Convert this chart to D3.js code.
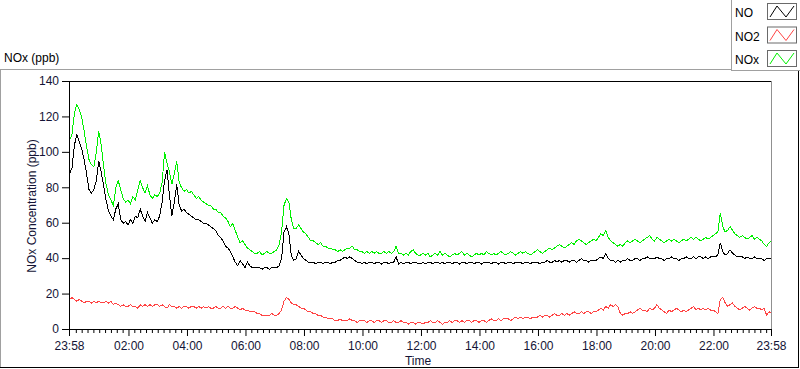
<!DOCTYPE html>
<html><head><meta charset="utf-8">
<script src="https://cdn.jsdelivr.net/npm/d3@7"></script>
<style>
html,body{margin:0;padding:0;background:#fff;}
svg{display:block;font-family:"Liberation Sans",Arial,sans-serif;}
</style></head><body>
<svg id="c" width="800" height="369"></svg>
<script>
// ---- data (one value every 5 minutes, starting 23:58; each row = 1 hour) ----
const stepMinutes = 5;
const seriesNames = ["NO", "NO2", "NOx"];
const seriesColors = ["#000000", "#ff4444", "#00f000"];

const noValues = [
  88,91,104,110,106,102,96,88,79,77,79,84,
  95,89,81,73,67,64,62,68,71,62,60,61,
  59,62,60,64,63,68,64,61,66,63,60,62,
  61,64,72,84,90,76,64,72,82,70,67,68,
  66,65,64,63,62,62,61,60,60,59,58,57,
  56,53,52,50,47,46,44,41,38,36,39,37,
  35,38,36,35,35,35,35,34,35,35,34,35,
  35,35,36,40,55,58,54,42,39,40,44,42,
  40,39,38,38,38,37,38,38,37,38,38,37,
  38,38,39,39,40,41,40,41,40,39,38,38,
  37,38,37,38,38,37,38,38,37,38,38,37,
  38,38,41,37,38,37,38,38,37,38,38,37,
  37,38,37,38,38,37,38,38,37,38,37,38,
  38,37,38,38,37,38,38,37,38,38,37,38,
  38,37,38,38,38,37,38,38,37,38,38,37,
  38,38,37,38,38,38,37,38,38,37,38,38,
  38,37,38,38,39,38,38,39,38,39,38,39,
  39,38,39,39,38,39,40,39,39,38,39,39,
  39,40,41,40,43,40,39,39,38,39,38,39,
  39,40,39,39,40,40,39,40,40,41,40,40,
  40,41,40,40,39,40,40,41,40,40,39,40,
  40,41,40,40,41,40,41,41,40,41,40,41,
  41,41,42,49,44,42,43,45,43,42,41,41,
  41,40,41,40,40,41,40,40,40,39,40,40,
  40
];

const no2Values = [
  17,18,17,16,17,16,15,16,16,15,16,15,
  16,15,15,16,15,16,14,15,14,13,14,13,
  13,14,13,13,12,14,13,14,13,14,13,14,
  14,13,14,13,12,14,13,13,12,13,12,13,
  13,12,13,13,12,13,12,13,12,13,12,12,
  13,12,12,13,12,13,12,12,13,12,11,12,
  11,11,10,10,10,9,9,8,8,8,8,9,
  8,8,9,11,16,18,17,15,14,14,13,12,
  12,11,10,10,9,9,8,8,7,7,6,6,
  6,5,5,6,5,5,5,6,5,5,4,5,
  5,5,4,5,5,4,5,5,4,5,5,4,
  4,5,4,4,5,4,4,3,4,4,3,4,
  4,3,4,4,5,4,4,5,4,3,4,4,
  5,4,5,5,4,5,4,5,5,4,5,5,
  4,5,5,4,5,6,5,5,6,5,6,6,
  6,5,6,7,6,7,6,7,7,6,7,7,
  7,8,7,8,8,7,8,9,8,8,9,8,
  9,8,9,10,9,9,10,9,10,10,9,10,
  10,11,12,11,13,12,14,13,14,13,9,8,
  9,9,10,9,10,11,12,11,11,10,12,11,
  12,14,12,11,10,9,11,10,11,12,11,10,
  11,10,11,12,13,11,12,11,12,11,12,11,
  11,10,9,17,18,15,13,14,15,13,12,11,
  12,13,12,11,12,13,12,12,11,12,8,10,
  9
];

const noxValues = [
  107,110,122,127,124,120,112,103,96,93,92,100,
  112,104,92,82,76,73,70,80,84,79,74,72,
  73,71,75,73,79,84,80,77,81,76,74,76,
  75,77,83,100,94,89,82,88,95,83,80,78,
  79,77,78,76,74,75,73,72,71,70,70,68,
  68,66,66,64,63,61,58,60,56,52,49,50,
  48,46,45,44,43,43,44,42,43,44,43,43,
  44,45,48,55,70,74,72,62,57,57,59,57,
  55,54,52,50,50,49,48,49,47,47,46,46,
  45,45,44,45,44,45,46,46,47,45,45,44,
  44,43,44,43,44,43,44,43,43,44,43,44,
  43,44,47,43,43,42,43,42,44,45,43,42,
  42,43,42,43,41,42,43,42,44,42,43,42,
  41,42,43,42,43,44,42,43,42,41,42,43,
  42,43,42,44,43,42,43,42,43,44,43,42,
  43,44,43,42,43,44,43,44,43,42,43,44,
  45,44,43,44,45,46,45,46,47,48,47,46,
  47,48,49,48,50,51,50,49,48,49,50,51,
  50,52,54,53,56,52,50,49,48,47,48,47,
  49,50,49,50,51,50,49,50,51,52,53,51,
  50,52,51,50,49,50,51,50,51,50,49,50,
  51,50,51,52,51,52,51,50,51,52,51,52,
  53,54,55,66,58,55,56,58,56,54,53,52,
  53,52,51,52,53,51,52,51,50,48,47,49,
  50
];

const yTicks = [0, 20, 40, 60, 80, 100, 120, 140];
const xTickLabels = ["23:58","02:00","04:00","06:00","08:00","10:00","12:00",
                     "14:00","16:00","18:00","20:00","22:00","23:58"];
const titleText = "NOx (ppb)";
const yTitle = "NOx Concentration (ppb)";
const xTitle = "Time";

// ---- layout ----
const svg = d3.select("#c");
const plot = {left: 69, right: 771, top: 81, bottom: 329};
const totalMinutes = 1440;
const startMin = 23 * 60 + 58;
const fs = 12;

const x = d3.scaleLinear().domain([0, totalMinutes]).range([plot.left, plot.right]);
const y = d3.scaleLinear().domain([0, 140]).range([plot.bottom, plot.top]);

const labelColor = "#141436";

// outer panel
svg.append("rect").attr("x", 0).attr("y", 0).attr("width", 800).attr("height", 369).attr("fill", "#fff");
svg.append("line").attr("x1", 0.5).attr("x2", 0.5).attr("y1", 69).attr("y2", 368).attr("stroke", "#a0a0a0");
svg.append("line").attr("x1", 0).attr("x2", 731).attr("y1", 69.5).attr("y2", 69.5).attr("stroke", "#a0a0a0");
svg.append("line").attr("x1", 0).attr("x2", 799).attr("y1", 367.5).attr("y2", 367.5).attr("stroke", "#000");
svg.append("line").attr("x1", 798.5).attr("x2", 798.5).attr("y1", 70).attr("y2", 368).attr("stroke", "#000");

// title
svg.append("text").attr("x", 4).attr("y", 62).attr("font-size", fs).attr("fill", "#000").text(titleText);

// data lines
const clip = svg.append("clipPath").attr("id", "clipP").append("rect")
  .attr("x", plot.left).attr("y", plot.top).attr("width", plot.right - plot.left + 1).attr("height", plot.bottom - plot.top);
const lineGen = d3.line().x((d, i) => x(i * stepMinutes) + 0.5).y(d => y(d) + 0.5);
const seriesData = [noValues, no2Values, noxValues];
const g = svg.append("g").attr("clip-path", "url(#clipP)");
[2, 1, 0].forEach(k => {
  g.append("path").datum(seriesData[k]).attr("d", lineGen)
    .attr("fill", "none").attr("stroke", seriesColors[k]).attr("stroke-width", 1)
    .attr("stroke-linejoin", "miter").attr("shape-rendering", "crispEdges");
});

// plot frame
svg.append("line").attr("x1", plot.left).attr("x2", plot.right + 1).attr("y1", plot.top + 0.5).attr("y2", plot.top + 0.5).attr("stroke", "#000");
svg.append("line").attr("x1", plot.right + 0.5).attr("x2", plot.right + 0.5).attr("y1", plot.top).attr("y2", plot.bottom + 1).attr("stroke", "#909090");

// y axis
const yAxis = d3.axisLeft(y).tickValues(yTicks).tickSize(7).tickPadding(3).tickFormat(d3.format("d"));
const yg = svg.append("g").attr("transform", `translate(${plot.left},0)`).call(yAxis);
yg.select(".domain").attr("stroke", "#000");
yg.selectAll(".tick line").attr("stroke", "#000");
yg.selectAll(".tick text").attr("font-size", fs).attr("fill", labelColor).attr("font-family", "Liberation Sans, Arial, sans-serif");

// x axis
function labelToMinutes(s, i) {
  if (i === xTickLabels.length - 1) return totalMinutes;
  const [h, m] = s.split(":").map(Number);
  return ((h * 60 + m) - startMin + 1440) % 1440;
}
const xMajor = xTickLabels.map(labelToMinutes);
const xMinor = d3.range(2, totalMinutes, 12).filter(v => !xMajor.some(M => Math.abs(M - v) < 3));
const xAxisMinor = d3.axisBottom(x).tickValues(xMinor).tickSize(4).tickFormat("");
const xgm = svg.append("g").attr("transform", `translate(0,${plot.bottom})`).call(xAxisMinor);
xgm.select(".domain").remove();
xgm.selectAll(".tick line").attr("stroke", "#000");
const xAxis = d3.axisBottom(x).tickValues(xMajor).tickSize(7).tickPadding(5)
  .tickFormat((d, i) => xTickLabels[i]);
const xg = svg.append("g").attr("transform", `translate(0,${plot.bottom})`).call(xAxis);
xg.select(".domain").attr("stroke", "#000").attr("d", `M${plot.left},0.5H${plot.right + 1}`);
xg.selectAll(".tick line").attr("stroke", "#000").attr("stroke-width", 1);
xg.selectAll(".tick text").attr("font-size", fs).attr("fill", labelColor).attr("font-family", "Liberation Sans, Arial, sans-serif");

// axis titles
svg.append("text").attr("transform", `translate(36,${(plot.top + plot.bottom) / 2 + 1}) rotate(-90)`)
  .attr("text-anchor", "middle").attr("font-size", fs).attr("fill", labelColor).text(yTitle);
svg.append("text").attr("x", (plot.left + plot.right) / 2 - 2).attr("y", 365)
  .attr("text-anchor", "middle").attr("font-size", fs).attr("fill", labelColor).text(xTitle);

// legend
const lg = svg.append("g");
lg.append("rect").attr("x", 731).attr("y", 0).attr("width", 69).attr("height", 71).attr("fill", "#fff");
lg.append("line").attr("x1", 731.5).attr("x2", 731.5).attr("y1", 0).attr("y2", 71).attr("stroke", "#a0a0a0");
lg.append("line").attr("x1", 731).attr("x2", 800).attr("y1", 70.5).attr("y2", 70.5).attr("stroke", "#a0a0a0");
seriesNames.forEach((name, k) => {
  const top = 3 + k * 23.5;
  lg.append("text").attr("x", 735).attr("y", top + 14).attr("font-size", fs).attr("fill", "#000").text(name);
  const sx = 767, sw = 29, sh = 16;
  lg.append("rect").attr("x", sx + 0.5).attr("y", top + 0.5).attr("width", sw).attr("height", sh)
    .attr("fill", "#fff").attr("stroke", "#6a6a6a");
  const pts = [[sx + 3, top + sh - 2], [sx + 10, top + 3], [sx + 19, top + sh - 2], [sx + 27, top + 3]];
  lg.append("path").attr("d", d3.line()(pts)).attr("fill", "none").attr("stroke", seriesColors[k]).attr("stroke-width", 1);
});
</script>
</body></html>
